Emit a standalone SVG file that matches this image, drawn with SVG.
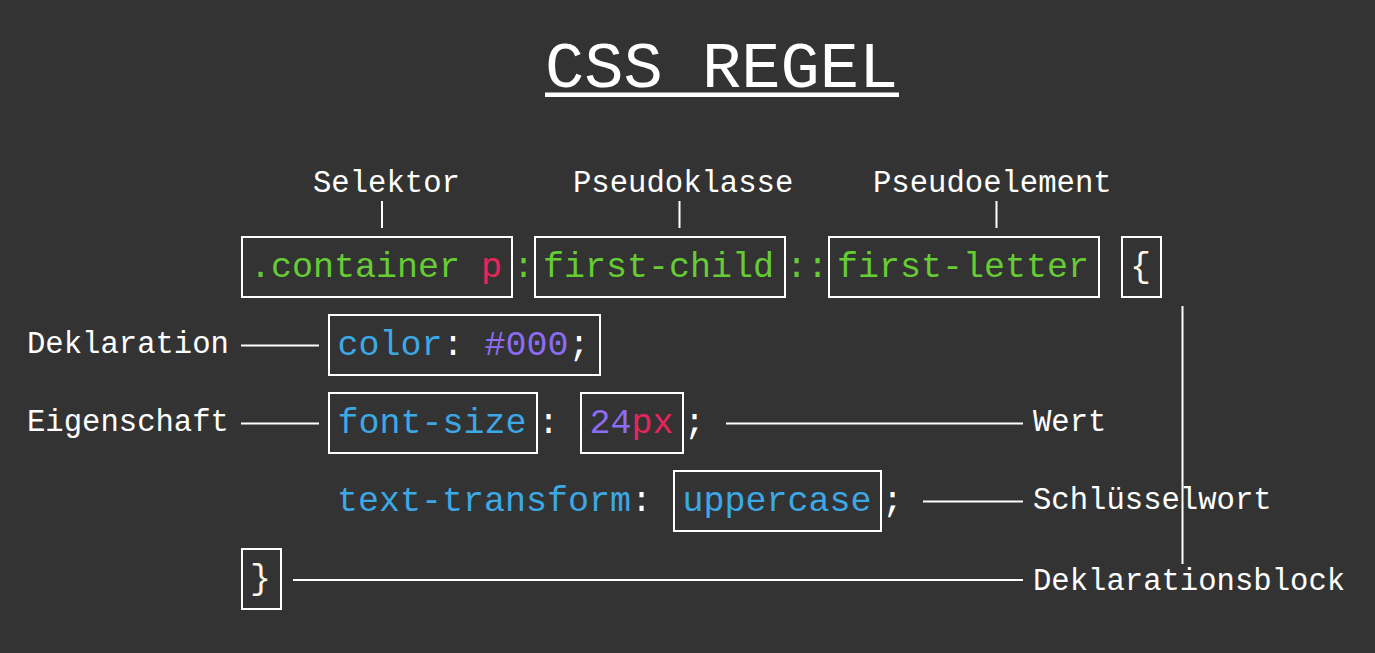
<svg xmlns="http://www.w3.org/2000/svg" width="1375" height="653" viewBox="0 0 1375 653">
<style>
.bg{fill:#333333}
.box{fill:none;stroke:#ffffff;stroke-width:2}
.code{font-family:"Liberation Mono","Courier New",monospace;font-size:35px;fill:#ffffff}
.lbl{font-family:"Liberation Mono","Courier New",monospace;font-size:30.6px;fill:#ffffff}
.g{fill:#66cc33}
.r{fill:#e8245c}
.b{fill:#3ca9e6}
.v{fill:#8c6cf2}
.w{fill:#ffffff}
.cr{fill:#fbf6e4}
.ln{stroke:#ffffff;stroke-width:2;fill:none}
</style>
<rect class="bg" x="0" y="0" width="1375" height="653"/>
<g id="title">
<text x="545" y="87" font-family="'Liberation Mono','Courier New',monospace" font-size="65.4" fill="#ffffff">CSS REGEL</text>
<rect x="545" y="92.5" width="354" height="4.5" fill="#ffffff"/>
</g>
<g id="labels">
<text id="lbl-selektor" class="lbl" x="313" y="192">Selektor</text>
<text id="lbl-pseudoklasse" class="lbl" x="573" y="192">Pseudoklasse</text>
<text id="lbl-pseudoelement" class="lbl" x="873" y="192">Pseudoelement</text>
<text id="lbl-deklaration" class="lbl" x="27" y="353">Deklaration</text>
<text id="lbl-eigenschaft" class="lbl" x="27" y="431">Eigenschaft</text>
<text id="lbl-wert" class="lbl" x="1033" y="431">Wert</text>
<text id="lbl-schluesselwort" class="lbl" x="1033" y="509">Schlüsselwort</text>
<text id="lbl-deklarationsblock" class="lbl" x="1033" y="590">Deklarationsblock</text>
</g>
<g id="selector">
<rect class="box" x="242" y="237" width="270" height="60"/>
<text class="code" x="250" y="277"><tspan class="g">.container</tspan><tspan class="r"> p</tspan></text>
</g>
<text class="code g" x="513" y="277">:</text>
<g id="pseudoclass">
<rect class="box" x="535" y="237" width="250" height="60"/>
<text class="code g" x="543" y="277">first-child</text>
</g>
<text class="code g" x="786" y="277">::</text>
<g id="pseudoelement">
<rect class="box" x="829" y="237" width="270" height="60"/>
<text class="code g" x="837" y="277">first-letter</text>
</g>
<g id="open-brace">
<rect class="box" x="1122" y="237" width="39" height="60"/>
<text class="code cr" x="1130" y="277">{</text>
</g>
<g id="declaration">
<rect class="box" x="329" y="315" width="271" height="60"/>
<text class="code" x="337.5" y="355"><tspan class="b">color</tspan><tspan class="w">: </tspan><tspan class="v">#000</tspan><tspan class="w">;</tspan></text>
</g>
<g id="property">
<rect class="box" x="329" y="393" width="208" height="60"/>
<text class="code b" x="337.5" y="433">font-size</text>
</g>
<text class="code w" x="538" y="433">:</text>
<g id="value">
<rect class="box" x="581" y="393" width="102" height="60"/>
<text class="code" x="589.5" y="433"><tspan class="v">24</tspan><tspan class="r">px</tspan></text>
</g>
<text class="code w" x="684" y="433">;</text>
<g id="tt-property">
<text class="code" x="337" y="511"><tspan class="b">text-transform</tspan><tspan class="w">:</tspan></text>
</g>
<g id="keyword">
<rect class="box" x="674" y="471" width="207" height="60"/>
<text class="code b" x="682.5" y="511">uppercase</text>
</g>
<text class="code w" x="882" y="511">;</text>
<g id="close-brace">
<rect class="box" x="242" y="549" width="39" height="60"/>
<text class="code cr" x="250" y="589">}</text>
</g>
<g id="connectors">
<line class="ln" x1="382" y1="201" x2="382" y2="228"/>
<line class="ln" x1="679.5" y1="201" x2="679.5" y2="228"/>
<line class="ln" x1="996.5" y1="201" x2="996.5" y2="228" stroke-width="3"/>
<line class="ln" x1="241" y1="345.5" x2="319" y2="345.5"/>
<line class="ln" x1="241" y1="423.5" x2="319" y2="423.5"/>
<line class="ln" x1="726" y1="423.5" x2="1023" y2="423.5"/>
<line class="ln" x1="923" y1="501.5" x2="1023" y2="501.5"/>
<line class="ln" x1="293" y1="580" x2="1023" y2="580"/>
<line class="ln" x1="1182.5" y1="306" x2="1182.5" y2="564" stroke-width="3"/>
</g>
</svg>
